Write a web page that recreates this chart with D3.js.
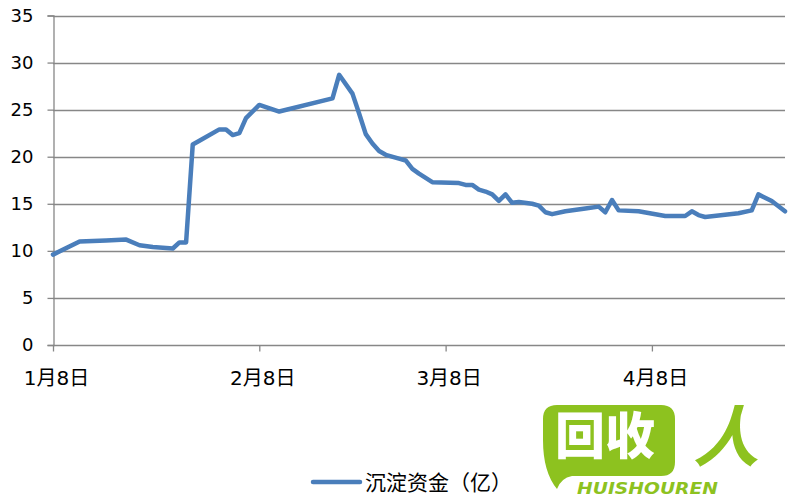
<!DOCTYPE html>
<html><head><meta charset="utf-8">
<script src="https://cdn.jsdelivr.net/npm/d3@7"></script>
<style>
body{margin:0;background:#fff;}
svg{display:block;}
</style></head>
<body>
<svg id="chart" width="800" height="500"></svg>
<script>
const dates = ["2015-01-08","2015-01-12","2015-01-16","2015-01-19","2015-01-21","2015-01-23","2015-01-26","2015-01-27","2015-01-28","2015-01-29","2015-01-30",
"2015-02-02","2015-02-03","2015-02-04","2015-02-05","2015-02-06","2015-02-08","2015-02-11","2015-02-19","2015-02-20","2015-02-22","2015-02-23","2015-02-24","2015-02-25","2015-02-26","2015-02-27",
"2015-03-01","2015-03-02","2015-03-03","2015-03-04","2015-03-06","2015-03-10","2015-03-11","2015-03-12","2015-03-13","2015-03-14","2015-03-15","2015-03-16","2015-03-17","2015-03-18","2015-03-19","2015-03-21","2015-03-22","2015-03-23","2015-03-24","2015-03-26","2015-03-29","2015-03-31",
"2015-04-01","2015-04-02","2015-04-03","2015-04-06","2015-04-10","2015-04-13","2015-04-14","2015-04-15","2015-04-16","2015-04-21","2015-04-23","2015-04-24","2015-04-26","2015-04-28"];
const values = [9.6,11.0,11.1,11.2,10.6,10.4,10.25,10.9,10.9,21.3,21.7,
22.9,22.9,22.3,22.5,24.1,25.5,24.8,26.2,28.7,26.7,24.6,22.4,21.4,20.6,20.2,
19.8,19.6,18.7,18.2,17.3,17.2,17.0,17.0,16.5,16.3,16.0,15.3,16.0,15.1,15.2,15.0,14.8,14.1,13.9,14.2,14.5,14.7,
14.1,15.4,14.3,14.2,13.7,13.7,14.2,13.8,13.6,14.0,14.3,16.0,15.3,14.2];
const tickDates = ["2015-01-08","2015-02-08","2015-03-08","2015-04-08"];
const tickLabels = ["1月8日","2月8日","3月8日","4月8日"];
const yTicks = [0,5,10,15,20,25,30,35];
const seriesName = "沉淀资金（亿）";
const domainStart = "2015-01-08", domainEnd = "2015-04-28";

const parse = d3.timeParse("%Y-%m-%d");
const svg = d3.select("#chart");
const FONT = "'DejaVu Sans','Noto Sans CJK SC',sans-serif";
const gridColor = "#878787";

const x = d3.scaleTime().domain([parse(domainStart), parse(domainEnd)]).range([53, 785]);
const y = d3.scaleLinear().domain([0, 35]).range([345, 15.5]);

// gridlines
svg.append("g").selectAll("line").data(yTicks.filter(v => v > 0)).join("line")
  .attr("x1", 53).attr("x2", 785)
  .attr("y1", d => Math.round(y(d)) + 0.5).attr("y2", d => Math.round(y(d)) + 0.5)
  .attr("stroke", gridColor).attr("stroke-width", 1.3);

// y axis
const yAxis = svg.append("g").attr("transform", "translate(53.5,0)")
  .call(d3.axisLeft(y).tickValues(yTicks).tickSize(6).tickPadding(14).tickFormat(d3.format("d")));
yAxis.select(".domain").attr("stroke", gridColor).attr("stroke-width", 1.3);
yAxis.selectAll(".tick line").attr("stroke", gridColor).attr("stroke-width", 1.3);
yAxis.selectAll("text").attr("font-family", FONT).attr("font-size", 18).attr("fill", "#000");

// x axis
const xAxis = svg.append("g").attr("transform", "translate(0,345.5)")
  .call(d3.axisBottom(x).tickValues(tickDates.map(parse)).tickSize(6).tickPadding(19)
    .tickFormat((d, i) => tickLabels[i]));
xAxis.select(".domain").attr("stroke", gridColor).attr("stroke-width", 1.3).attr("d", "M53,0H785");
xAxis.selectAll(".tick line").attr("stroke", gridColor).attr("stroke-width", 1.3);
xAxis.selectAll("text").attr("font-family", FONT).attr("font-size", 20).attr("fill", "#000")
  .attr("dx", 3);

// series line
const data = dates.map((d, i) => ({date: parse(d), value: values[i]}));
svg.append("path").datum(data)
  .attr("fill", "none").attr("stroke", "#4A7EBB").attr("stroke-width", 4.5)
  .attr("stroke-linejoin", "round").attr("stroke-linecap", "round")
  .attr("d", d3.line().x(d => x(d.date)).y(d => y(d.value)));

// legend
svg.append("line").attr("x1", 313).attr("x2", 360).attr("y1", 482).attr("y2", 482)
  .attr("stroke", "#4A7EBB").attr("stroke-width", 4.5).attr("stroke-linecap", "round");
svg.append("text").attr("x", 365).attr("y", 490).attr("font-family", FONT)
  .attr("font-size", 21).attr("fill", "#000").text(seriesName);

// watermark logo
const green = "#8DC21F";
const logo = svg.append("g");
logo.append("path").attr("fill", green)
  .attr("d", "M557,405 H661 Q675,405 675,419 V462 Q675,476 661,476 H572 Q561,478 557,489 Q543,472 543,440 V419 Q543,405 557,405 Z");
logo.append("text").attr("x", 555).attr("y", 454).attr("font-family", "'Noto Sans CJK SC'")
  .attr("font-weight", 900).attr("font-size", 50).attr("fill", "#fff").text("回收");
logo.append("text").attr("x", 693).attr("y", 461).attr("font-family", "'Noto Sans CJK SC'")
  .attr("font-weight", 700).attr("font-size", 66).attr("font-style", "italic").attr("fill", green).text("人");
logo.append("text").attr("x", 577).attr("y", 494).attr("font-family", "'DejaVu Sans'")
  .attr("font-weight", 700).attr("font-style", "italic").attr("font-size", 16)
  .attr("textLength", 141).attr("lengthAdjust", "spacingAndGlyphs").attr("fill", green).text("HUISHOUREN");
</script>
</body></html>
